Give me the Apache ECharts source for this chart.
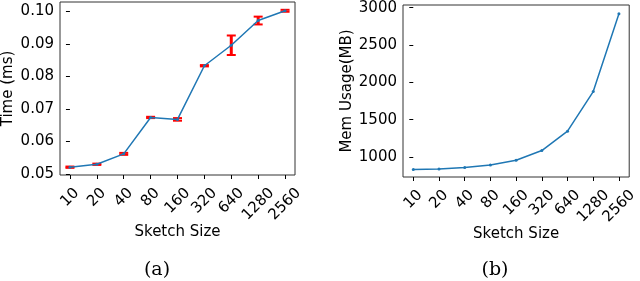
<!DOCTYPE html>
<html><head><meta charset="utf-8">
<script src="https://cdn.jsdelivr.net/npm/echarts@6/dist/echarts.min.js"></script>
<style>html,body{margin:0;padding:0;background:#fff}#c{width:640px;height:281px}</style>
</head><body><div id="c"></div>
<script>
const categories = ['10','20','40','80','160','320','640','1280','2560'];
const timeMean = [0.0521, 0.0530, 0.0562, 0.0674, 0.0668, 0.0833, 0.0896, 0.0972, 0.1002];
const timeErr  = [0.0002, 0.0002, 0.0003, 0.0002, 0.0004, 0.0002, 0.0030, 0.0012, 0.0003];
const memUsage = [831, 840, 858, 893, 956, 1086, 1346, 1876, 2919];
const timeTicks = [0.05, 0.06, 0.07, 0.08, 0.09, 0.10];
const memTicks = [1000, 1500, 2000, 2500, 3000];

const idx = categories.map((_, i) => i);
const FONT = 'DejaVu Sans';
const FS = 15;
const lbl = {fontFamily: FONT, fontSize: FS, color: '#000'};

// rich styles so that each rotated label is centred under its tick (matplotlib style)
const DIGIT_W = 0.636 * FS, BASE_LH = 15, T = 12;
const rich = {};
[2, 3, 4].forEach(n => {
  const w = n * DIGIT_W;
  const d = (w - BASE_LH) / 2;
  const pt = (T + d) / 2, pr = (T - d) / 2;
  rich['s' + n] = {fontFamily: FONT, fontSize: FS, color: '#000',
    width: w + pr, align: 'left', lineHeight: BASE_LH + 2 * pt, verticalAlign: 'middle'};
});

function xAxis(gi, pad) {
  return {
    type: 'value', gridIndex: gi, min: -pad, max: 8 + pad,
    axisLine: {show: false}, splitLine: {show: false},
    axisTick: {show: true, customValues: idx, length: 4, lineStyle: {color: '#000'}},
    axisLabel: Object.assign({}, lbl, {customValues: idx, rotate: 45, margin: 2,
      align: 'right', verticalAlign: 'top', rich: rich,
      formatter: v => { const s = categories[Math.round(v)]; return '{s' + s.length + '|' + s + '}'; }}),
    name: 'Sketch Size', nameLocation: 'middle', nameGap: 50, nameMoveOverlap: false,
    nameTextStyle: Object.assign({}, lbl)
  };
}

const option = {
  animation: false,
  grid: [
    {left: 60, right: 345, top: 2, bottom: 106, show: true, borderColor: '#333', borderWidth: 1},
    {left: 403, right: 7, top: 5, bottom: 104, show: true, borderColor: '#333', borderWidth: 1}
  ],
  title: [
    {text: '(a)', left: 152, top: 256, textAlign: 'center', textStyle: {fontFamily: 'DejaVu Serif', fontSize: 19, fontWeight: 'normal', color: '#000'}},
    {text: '(b)', left: 490, top: 256, textAlign: 'center', textStyle: {fontFamily: 'DejaVu Serif', fontSize: 19, fontWeight: 'normal', color: '#000'}}
  ],
  xAxis: [xAxis(0, 0.37), xAxis(1, 0.40)],
  yAxis: [
    {type: 'value', gridIndex: 0, min: 0.0497, max: 0.1029,
     axisLine: {show: false}, splitLine: {show: false},
     axisTick: {show: true, customValues: timeTicks, length: 4, lineStyle: {color: '#000'}},
     axisLabel: Object.assign({}, lbl, {customValues: timeTicks, margin: 6, formatter: v => v.toFixed(2)}),
     name: 'Time (ms)', nameLocation: 'middle', nameGap: 44, nameTextStyle: Object.assign({}, lbl)},
    {type: 'value', gridIndex: 1, min: 732, max: 3035,
     axisLine: {show: false}, splitLine: {show: false},
     axisTick: {show: true, customValues: memTicks, length: 4, lineStyle: {color: '#000'}},
     axisLabel: Object.assign({}, lbl, {customValues: memTicks, margin: 6, formatter: v => String(Math.round(v))}),
     name: 'Mem Usage(MB)', nameLocation: 'middle', nameGap: 47, nameTextStyle: Object.assign({}, lbl)}
  ],
  series: [
    {type: 'custom', xAxisIndex: 0, yAxisIndex: 0, z: 1,
     data: idx.map(i => [i, timeMean[i] - timeErr[i], timeMean[i] + timeErr[i]]),
     renderItem: function (params, api) {
       const lo = api.coord([api.value(0), api.value(1)]);
       const hi = api.coord([api.value(0), api.value(2)]);
       const w = 4.5;
       const st = {stroke: '#ff0000', lineWidth: 2};
       return {type: 'group', children: [
         {type: 'line', shape: {x1: lo[0], y1: lo[1], x2: hi[0], y2: hi[1]}, style: {stroke: '#ff0000', lineWidth: 3}},
         {type: 'line', shape: {x1: lo[0]-w, y1: lo[1], x2: lo[0]+w, y2: lo[1]}, style: st},
         {type: 'line', shape: {x1: hi[0]-w, y1: hi[1], x2: hi[0]+w, y2: hi[1]}, style: st}
       ]};
     }},
    {type: 'line', xAxisIndex: 0, yAxisIndex: 0, z: 2,
     data: idx.map(i => [i, timeMean[i]]),
     symbol: 'circle', symbolSize: 3, showSymbol: true,
     lineStyle: {color: '#1f77b4', width: 1.5}, itemStyle: {color: '#1f77b4'}},
    {type: 'line', xAxisIndex: 1, yAxisIndex: 1,
     data: idx.map(i => [i, memUsage[i]]),
     symbol: 'circle', symbolSize: 3, showSymbol: true,
     lineStyle: {color: '#1f77b4', width: 1.5}, itemStyle: {color: '#1f77b4'}}
  ]
};
echarts.init(document.getElementById('c'), null, {renderer: 'canvas'}).setOption(option);
</script></body></html>
